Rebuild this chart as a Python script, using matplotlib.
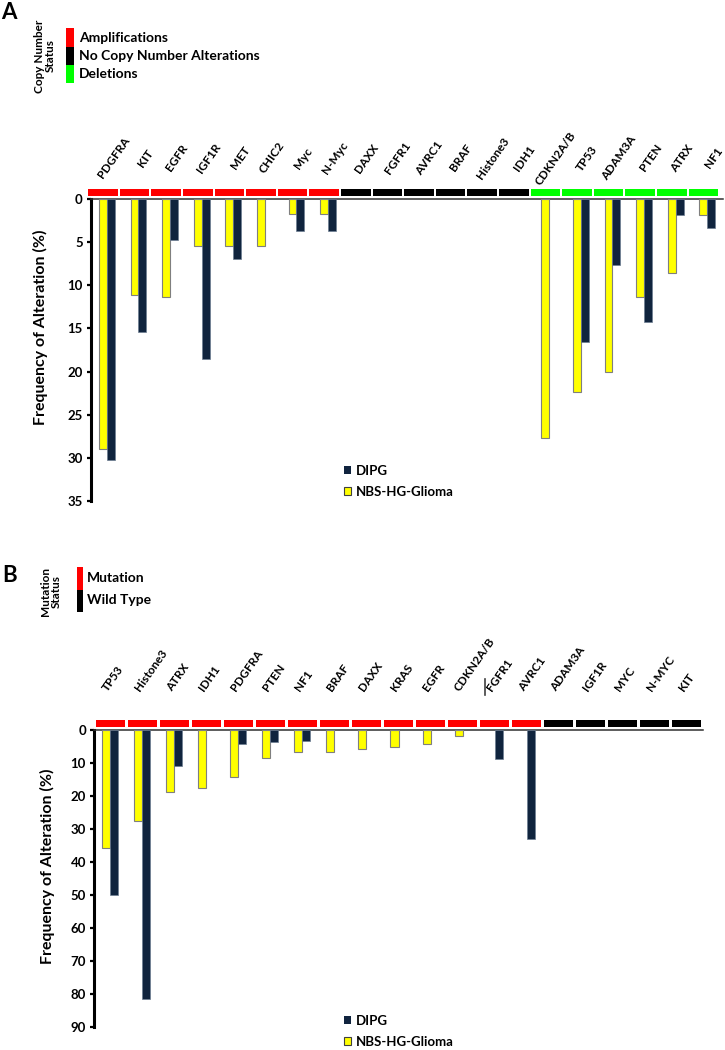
import numpy as np
import matplotlib
matplotlib.use('Agg')
import matplotlib.pyplot as plt
from matplotlib.patches import Rectangle, Patch
from matplotlib.lines import Line2D
from matplotlib.transforms import blended_transform_factory

plt.rcParams['font.family'] = ['Lato', 'DejaVu Sans']
plt.rcParams['font.weight'] = 'bold'

# ---- data: panel A (copy number) ----
genes_a = ['PDGFRA', 'KIT', 'EGFR', 'IGF1R', 'MET', 'CHIC2', 'Myc', 'N-Myc',
           'DAXX', 'FGFR1', 'AVRC1', 'BRAF', 'Histone3', 'IDH1',
           'CDKN2A/B', 'TP53', 'ADAM3A', 'PTEN', 'ATRX', 'NF1']
status_a = ['amp'] * 8 + ['none'] * 6 + ['del'] * 6
dipg_a = [30.2, 15.4, 4.7, 18.6, 6.9, 0, 3.7, 3.7,
          0, 0, 0, 0, 0, 0,
          0, 16.6, 7.6, 14.3, 1.8, 3.4]
nbs_a = [29.0, 11.1, 11.3, 5.5, 5.5, 5.5, 1.7, 1.7,
         0, 0, 0, 0, 0, 0,
         27.7, 22.4, 20.0, 11.3, 8.6, 1.8]

# ---- data: panel B (mutations) ----
genes_b = ['TP53', 'Histone3', 'ATRX', 'IDH1', 'PDGFRA', 'PTEN', 'NF1', 'BRAF',
           'DAXX', 'KRAS', 'EGFR', 'CDKN2A/B', 'FGFR1', 'AVRC1',
           'ADAM3A', 'IGF1R', 'MYC', 'N-MYC', 'KIT']
status_b = ['mut'] * 14 + ['wt'] * 5
dipg_b = [49.9, 81.5, 10.8, 0, 4.3, 3.7, 3.3, 0, 0, 0, 0, 0, 8.8, 33.1,
          0, 0, 0, 0, 0]
nbs_b = [35.8, 27.4, 18.7, 17.6, 14.1, 8.6, 6.6, 6.6, 5.8, 5.2, 4.1, 1.8, 0, 0,
         0, 0, 0, 0, 0]

status_colors = {'amp': '#FF0000', 'none': '#000000', 'del': '#00FF00',
                 'mut': '#FF0000', 'wt': '#000000'}
YELLOW = '#FFFF00'
NAVY = '#10243E'

W, H = 725, 1050
fig = plt.figure(figsize=(W / 100, H / 100), dpi=100)


def fx(x):
    return x / W


def fy(y):
    return 1 - y / H


def px_axes(left, top, right, bottom):
    return fig.add_axes([fx(left), fy(bottom), (right - left) / W, (bottom - top) / H])


def draw_panel(ax, genes, status, dipg, nbs, ymax, step, strip_off, strip_w, ax_h_px):
    n = len(genes)
    x = np.arange(n)
    w = 0.25
    nbs = np.array(nbs)
    dipg = np.array(dipg)
    m = nbs > 0
    ax.bar(x[m] - w / 2, nbs[m], w, color=YELLOW, edgecolor='#7f7f7f', linewidth=0.8, zorder=3)
    m = dipg > 0
    ax.bar(x[m] + w / 2, dipg[m], w, color=NAVY, edgecolor='#6d7d92', linewidth=0.5, zorder=3)
    ax.set_xlim(-0.5, n - 0.5)
    ax.set_ylim(ymax, 0)
    ax.set_yticks(np.arange(0, ymax + 1, step))
    ax.set_xticks([])
    ax.tick_params(axis='y', direction='out', length=3, width=1.6, labelsize=9.5, pad=3)
    for lab in ax.get_yticklabels():
        lab.set_fontweight('bold')
    ax.spines['right'].set_visible(False)
    ax.spines['bottom'].set_visible(False)
    ax.spines['left'].set_linewidth(2.2)
    ax.spines['top'].set_linewidth(1.1)
    ax.spines['top'].set_color('#303030')

    # status strip above the axis
    tr = blended_transform_factory(ax.transData, ax.transAxes)
    y0 = 1 + 3 / ax_h_px
    hh = 7 / ax_h_px
    for i, s in enumerate(status):
        ax.add_patch(Rectangle((i - 0.5 + strip_off, y0), strip_w, hh, transform=tr,
                               facecolor=status_colors[s], edgecolor='none', clip_on=False))


# ---------------- Panel A ----------------
axA = px_axes(91, 199, 723, 501)
draw_panel(axA, genes_a, status_a, dipg_a, nbs_a, 35, 5, -0.09, 0.94, 302)
for i, g in enumerate(genes_a):
    axA.annotate(g, xy=(i, 0), xytext=(4.8, 29.5), textcoords='offset points',
                 ha='center', va='center', rotation=55, rotation_mode='anchor',
                 fontsize=8.5, fontweight='bold', annotation_clip=False)
axA.set_ylabel('Frequency of Alteration (%)', fontsize=11.5, fontweight='bold')
axA.yaxis.set_label_coords(-0.068, 0.576)

# ---------------- Panel B ----------------
axB = px_axes(94.3, 730, 702.7, 1027.3)
draw_panel(axB, genes_b, status_b, dipg_b, nbs_b, 90, 10, 0.04, 0.92, 297.3)
for i, g in enumerate(genes_b):
    axB.annotate(g, xy=(i, 0), xytext=(-0.7, 26.6), textcoords='offset points',
                 ha='left', va='bottom', rotation=55, rotation_mode='anchor',
                 fontsize=8.5, fontweight='bold', annotation_clip=False)
axB.set_ylabel('Frequency of Alteration (%)', fontsize=11.5, fontweight='bold')
axB.yaxis.set_label_coords(-0.065, 0.543)
fig.add_artist(Line2D([fx(485), fx(485)], [fy(679), fy(695)], color='#404040', linewidth=1.2))

# ---------------- series legends ----------------
handles = [Patch(facecolor=NAVY, edgecolor='none', label='DIPG'),
           Patch(facecolor=YELLOW, edgecolor='#404040', linewidth=0.8, label='NBS-HG-Glioma')]
for top in (465, 1015):
    fig.legend(handles=handles, loc='upper left', bbox_to_anchor=(fx(344), fy(top)),
               frameon=False, handlelength=0.55, handleheight=0.55,
               handletextpad=0.35, labelspacing=0.65, borderpad=0, borderaxespad=0,
               prop={'weight': 'bold', 'size': 9.5})

# ---------------- status keys ----------------
fig.text(fx(1), fy(2), 'A', fontsize=16, fontweight='bold', va='top', ha='left')
fig.text(fx(2), fy(565), 'B', fontsize=16, fontweight='bold', va='top', ha='left')

fig.text(fx(45), fy(56), 'Copy Number\nStatus', rotation=90, ha='center', va='center',
         multialignment='center', fontsize=8.5, fontweight='bold', linespacing=1.05)
key_a = [('amp', 'Amplifications', 28, 47),
         ('none', 'No Copy Number Alterations', 47, 65),
         ('del', 'Deletions', 65, 83)]
for s, lab, t, b in key_a:
    fig.add_artist(Rectangle((fx(66), fy(b)), 8 / W, (b - t) / H, transform=fig.transFigure,
                             facecolor=status_colors[s], edgecolor='none'))
    fig.text(fx(79), fy((t + b) / 2), lab, ha='left', va='center', fontsize=10, fontweight='bold')

fig.text(fx(51), fy(591), 'Mutation\nStatus', rotation=90, ha='center', va='center',
         multialignment='center', fontsize=8.5, fontweight='bold', linespacing=1.05)
key_b = [('mut', 'Mutation', 567, 590), ('wt', 'Wild Type', 590, 612)]
for s, lab, t, b in key_b:
    fig.add_artist(Rectangle((fx(77), fy(b)), 5.5 / W, (b - t) / H, transform=fig.transFigure,
                             facecolor=status_colors[s], edgecolor='none'))
    fig.text(fx(87), fy((t + b) / 2 - 1), lab, ha='left', va='center', fontsize=10, fontweight='bold')

fig.savefig('out.png', dpi=100)
